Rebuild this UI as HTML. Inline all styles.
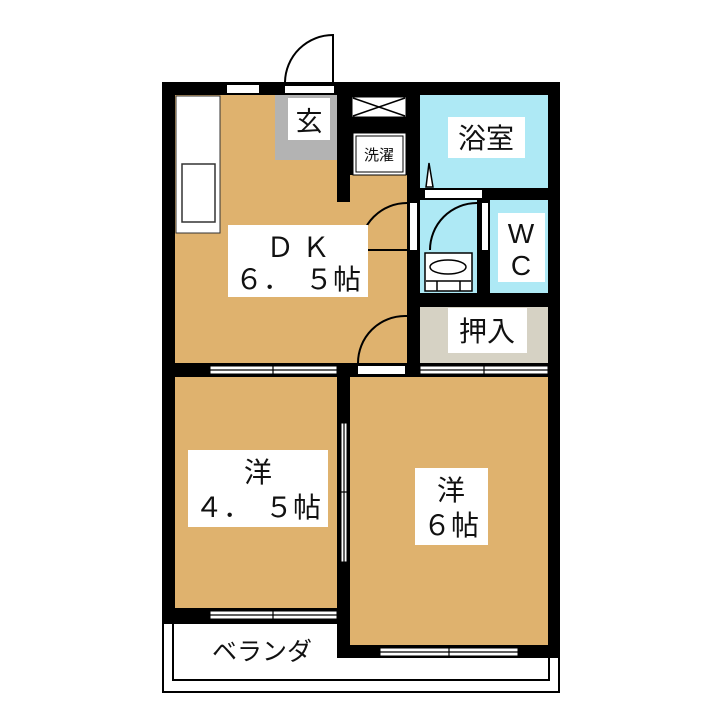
<!DOCTYPE html>
<html><head><meta charset="utf-8"><style>body{margin:0;background:#fff}svg{display:block}text{font-family:"Liberation Sans","Noto Sans CJK JP",sans-serif;fill:#111}</style></head><body>
<svg width="720" height="720" viewBox="0 0 720 720" xmlns="http://www.w3.org/2000/svg">
<rect width="720" height="720" fill="#fff"/>
<!-- balcony -->
<rect x="163" y="623" width="396" height="69" fill="#fff" stroke="#000" stroke-width="2"/>
<path d="M173 623 V680 H549 V657" fill="none" stroke="#000" stroke-width="2"/>
<!-- outer black -->
<rect x="162" y="82" width="398" height="541" fill="#000"/>
<rect x="337" y="600" width="223" height="58" fill="#000"/>
<!-- rooms -->
<rect x="175" y="95" width="232" height="268" fill="#dfb26e"/>
<rect x="337" y="95" width="70" height="80" fill="#000"/>
<rect x="337" y="95" width="13" height="107" fill="#000"/>
<rect x="275" y="95" width="62" height="65" fill="#b3b3b3"/>
<rect x="420" y="95" width="128" height="93" fill="#aee9f5"/>
<rect x="420" y="200" width="57" height="93" fill="#aee9f5"/>
<rect x="490" y="200" width="58" height="93" fill="#aee9f5"/>
<rect x="420" y="307" width="128" height="56" fill="#d6d2c4"/>
<rect x="175" y="377" width="162" height="231" fill="#dfb26e"/>
<rect x="350" y="377" width="198" height="268" fill="#dfb26e"/>
<!-- kitchen counter -->
<rect x="176" y="96" width="44" height="137" fill="#fff" stroke="#333" stroke-width="1"/>
<rect x="182" y="164" width="33" height="58" fill="#fff" stroke="#333" stroke-width="1.5"/>
<!-- top window & door -->
<rect x="227" y="85" width="32" height="8" fill="#fff"/>
<rect x="285" y="86" width="49" height="7" fill="#fff"/>
<path d="M333 82 V35 A48 48 0 0 0 285 82" fill="none" stroke="#000" stroke-width="2"/>
<!-- genkan label -->
<rect x="288" y="98" width="42" height="42" fill="#fff"/>
<text x="309" y="131" font-size="27" text-anchor="middle">玄</text>
<!-- X box -->
<rect x="352" y="97" width="54" height="20" fill="#fff" stroke="#000" stroke-width="1"/>
<path d="M353 98 L405 116 M353 116 L405 98" stroke="#000" stroke-width="1.5"/>
<!-- 洗濯 -->
<rect x="353" y="133" width="53" height="42" fill="#fff" stroke="#000" stroke-width="1"/>
<rect x="356" y="136" width="47" height="36" fill="#fff" stroke="#000" stroke-width="1"/>
<text x="379" y="160" font-size="15" text-anchor="middle">洗濯</text>
<!-- 浴室 -->
<rect x="448" y="117" width="77" height="41" fill="#fff"/>
<text x="486" y="148" font-size="28" text-anchor="middle">浴室</text>
<path d="M426 187 L429 163 L433 187 Z" fill="#fff" stroke="#000" stroke-width="1.5"/>
<rect x="425" y="190" width="57" height="8" fill="#fff"/>
<!-- DK doors -->
<rect x="410" y="203" width="7" height="47" fill="#fff"/>
<rect x="482" y="203" width="6" height="47" fill="#fff"/>
<path d="M407 250 H360 A47 47 0 0 1 407 203" fill="none" stroke="#000" stroke-width="2"/>
<path d="M430 250 A47 47 0 0 1 477 203" fill="none" stroke="#000" stroke-width="2"/>
<!-- basin -->
<rect x="425" y="253" width="47" height="38" fill="#fff" stroke="#000" stroke-width="1.5"/>
<ellipse cx="448" cy="267" rx="18" ry="7" fill="#fff" stroke="#000" stroke-width="1.5"/>
<path d="M426 281 H471 M437 281 V291 M460 281 V291" stroke="#000" stroke-width="1.5"/>
<!-- WC -->
<rect x="498" y="213" width="47" height="69" fill="#fff"/>
<text x="521" y="243" font-size="28" text-anchor="middle">W</text>
<text x="521" y="275" font-size="28" text-anchor="middle">C</text>
<!-- 押入 -->
<rect x="448" y="308" width="79" height="45" fill="#fff"/>
<text x="487" y="341" font-size="28" text-anchor="middle">押入</text>
<!-- DK label -->
<rect x="228" y="225" width="140" height="72" fill="#fff"/>
<text x="298" y="257" font-size="28" text-anchor="middle">Ｄ Ｋ</text>
<text x="298" y="289" font-size="28" text-anchor="middle">６．　５帖</text>
<!-- DK bottom door -->
<rect x="358" y="366" width="47" height="8" fill="#fff"/>
<path d="M358 363 A47 47 0 0 1 405 316 H407" fill="none" stroke="#000" stroke-width="2"/>
<!-- windows -->
<g fill="#fff" stroke="#000" stroke-width="1">
<rect x="210" y="366" width="127" height="8"/>
<rect x="420" y="366" width="128" height="8"/>
<rect x="210" y="611" width="127" height="8"/>
<rect x="380" y="648" width="138" height="8"/>
<rect x="341" y="423" width="6" height="139"/>
</g>
<g stroke="#000" stroke-width="1.2">
<path d="M210 370 H337 M273 365 V375 M420 370 H548 M484 365 V375 M210 615 H337 M273 610 V620 M380 652 H518 M449 647 V657 M344 423 V562 M339 492 H349"/>
</g>
<!-- 洋 labels -->
<rect x="188" y="450" width="140" height="77" fill="#fff"/>
<text x="258" y="482" font-size="28" text-anchor="middle">洋</text>
<text x="258" y="517" font-size="28" text-anchor="middle">４．　５帖</text>
<rect x="415" y="468" width="73" height="77" fill="#fff"/>
<text x="451" y="500" font-size="28" text-anchor="middle">洋</text>
<text x="451" y="535" font-size="28" text-anchor="middle">６帖</text>
<text x="262" y="660" font-size="25" text-anchor="middle">ベランダ</text>
</svg>
</body></html>
